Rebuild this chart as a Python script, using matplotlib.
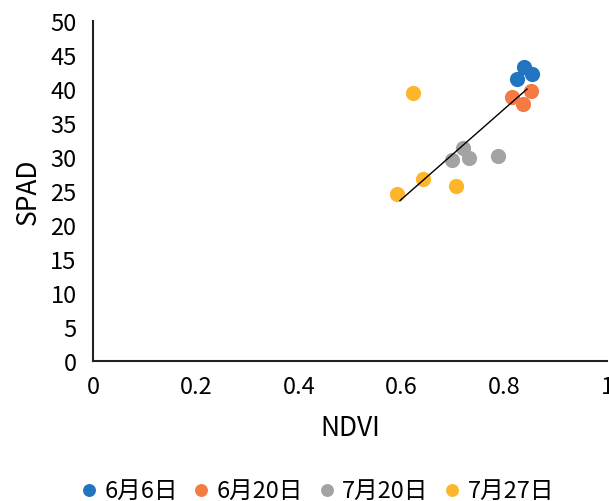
import numpy as np
import matplotlib
matplotlib.use("Agg")
import matplotlib.pyplot as plt

plt.rcParams['font.family'] = ['Noto Sans CJK JP', 'DejaVu Sans']

# data
series_names = ["6月6日", "6月20日", "7月20日", "7月27日"]
series_colors = ["#2274C0", "#F47B44", "#A3A3A6", "#FDB52B"]

ndvi_0606 = [0.838, 0.853, 0.824]
spad_0606 = [43.2, 42.2, 41.5]

ndvi_0620 = [0.815, 0.852, 0.836]
spad_0620 = [38.8, 39.7, 37.8]

ndvi_0720 = [0.720, 0.698, 0.732, 0.787]
spad_0720 = [31.4, 29.6, 29.8, 30.2]

ndvi_0727 = [0.623, 0.641, 0.706, 0.591]
spad_0727 = [39.4, 26.8, 25.8, 24.5]

# linear trendline end points as drawn
trend_x = [0.597, 0.844]
trend_y = [23.6, 40.0]

x_ticks = [0, 0.2, 0.4, 0.6, 0.8, 1]
x_ticklabels = ["0", "0.2", "0.4", "0.6", "0.8", "1"]
y_ticks = list(range(0, 55, 5))

xs = [ndvi_0606, ndvi_0620, ndvi_0720, ndvi_0727]
ys = [spad_0606, spad_0620, spad_0720, spad_0727]

fig = plt.figure(figsize=(6.09, 5.02), dpi=100)
ax = fig.add_axes([0.153, 0.279, 0.844, 0.677])

for x, y, name, c in zip(xs, ys, series_names, series_colors):
    ax.scatter(x, y, s=120, color=c, label=name, zorder=3, linewidths=0)

ax.plot(trend_x, trend_y, color="black", lw=1, zorder=4)

ax.set_xlim(0, 1)
ax.set_ylim(0, 50)
ax.set_xticks(x_ticks)
ax.set_xticklabels(x_ticklabels)
ax.set_yticks(y_ticks)
ax.tick_params(axis="y", length=0, labelsize=17, pad=12)
ax.tick_params(axis="x", length=0, labelsize=17, pad=10)
for s in ["top", "right"]:
    ax.spines[s].set_visible(False)
for s in ["left", "bottom"]:
    ax.spines[s].set_linewidth(1.5)
    ax.spines[s].set_color("#222222")

ax.set_xlabel("NDVI", fontsize=19, labelpad=12)
ax.set_ylabel("SPAD", fontsize=19, labelpad=6)

leg = fig.legend(loc="center", bbox_to_anchor=(0.52, 0.022), ncol=4, frameon=False,
                 handlelength=0.8, handletextpad=0.25, columnspacing=0.6, markerscale=0.85,
                 prop={"size": 17})

fig.savefig("out.png", dpi=100)
